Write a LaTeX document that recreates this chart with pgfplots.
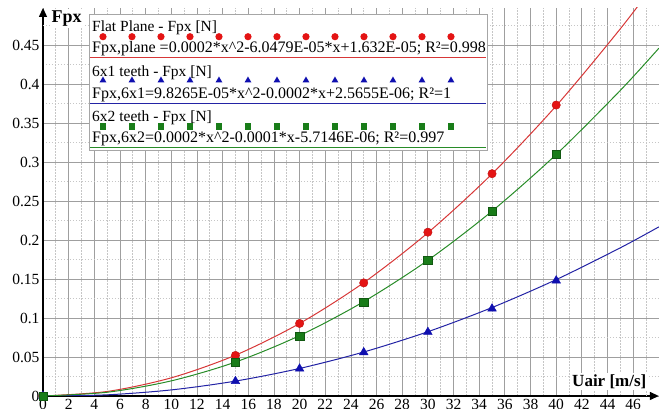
\documentclass[border=0pt]{standalone}
\usepackage{fontspec}
\setmainfont{Liberation Serif}
\usepackage{pgfplots}
\pgfplotsset{compat=1.18}
\usetikzlibrary{arrows.meta,shapes.geometric}
\definecolor{cred}{RGB}{228,20,20}
\definecolor{cblue}{RGB}{15,15,175}
\definecolor{cgreen}{RGB}{25,125,25}
\definecolor{lred}{RGB}{215,55,55}
\definecolor{lgreen}{RGB}{40,140,40}
\definecolor{lblue}{RGB}{35,35,165}
\begin{document}
\begin{tikzpicture}
\begin{axis}[
  scale only axis, width=615.84pt, height=388.05pt,
  xmin=0, xmax=48, ymin=0, ymax=0.4975,
  axis lines=left,
  axis line style={line width=1.3pt,-{Triangle[length=9pt,width=8pt]}},
  xtick={0,2,...,46},
  ytick={0,0.05,0.1,0.15,0.2,0.25,0.3,0.35,0.4,0.45},
  minor x tick num=1, minor y tick num=1,
  extra x ticks={47}, extra x tick labels={},
  extra x tick style={grid=major, major grid style={draw=gray!45, line width=0.8pt, dash pattern=on 1.5pt off 1.5pt}},
  extra y ticks={0.475}, extra y tick labels={},
  extra y tick style={grid=major, major grid style={draw=gray!45, line width=0.8pt, dash pattern=on 1.5pt off 1.5pt}},
  grid=both,
  major grid style={draw=gray!75, line width=0.8pt},
  minor grid style={draw=gray!45, line width=0.8pt, dash pattern=on 1.5pt off 1.5pt},
  major tick length=0pt, minor tick length=0pt,
  tick label style={font=\fontsize{15.5}{18}\selectfont},
  /pgf/number format/assume math mode=true,
  yticklabel style={/pgf/number format/fixed, /pgf/number format/precision=2},
  clip mode=individual,
]
% fitted curves
\addplot[lred, line width=1pt, smooth, no marks] coordinates {(0,0)(5,0.0058)(10,0.0233)(15,0.0523)(20,0.093)(25,0.1453)(30,0.2093)(35,0.2848)(40,0.372)(45,0.4708)(48,0.5357)};
\addplot[lblue, line width=1pt, smooth, no marks] coordinates {(0,0)(5,0.0015)(10,0.0078)(15,0.0191)(20,0.0353)(25,0.0564)(30,0.0824)(35,0.1134)(40,0.1492)(45,0.19)(48,0.2168)};
\addplot[lgreen, line width=1pt, smooth, no marks] coordinates {(0,0)(5,0.0048)(10,0.0194)(15,0.0435)(20,0.0774)(25,0.121)(30,0.174)(35,0.237)(40,0.3096)(45,0.3918)(48,0.4458)};
% measured points
\addplot[only marks, mark=*, mark size=4.2pt, mark options={fill=cred, draw=cred!85!black, line width=0.4pt}] coordinates {(0,0)(15,0.052)(20,0.093)(25,0.145)(30,0.21)(35,0.285)(40,0.373)};
\addplot[only marks, mark=triangle*, mark size=5pt, mark options={fill=cblue, draw=cblue, line width=0.4pt}] coordinates {(0,0)(15,0.019)(20,0.035)(25,0.056)(30,0.082)(35,0.112)(40,0.148)};
\addplot[only marks, mark=square*, mark size=4.2pt, mark options={fill=cgreen, draw=cgreen!70!black, line width=0.4pt}] coordinates {(0,0)(15,0.043)(20,0.077)(25,0.120)(30,0.174)(35,0.237)(40,0.310)};
\node[anchor=base west, fill=white, inner sep=1.5pt, font=\bfseries\fontsize{18}{20}\selectfont] at (axis cs:0.546,0.4786) {Fpx};
\node[anchor=base east, fill=white, inner sep=1.5pt, font=\bfseries\fontsize{17}{19}\selectfont] at (axis cs:47.16,0.0119) {Uair [m/s]};
\coordinate (L) at (axis cs:3.585,0.48974);
\coordinate (BL) at (axis cs:-3.351,-0.016667);
\coordinate (TR) at (axis cs:48.17,0.50769);
\end{axis}
\begin{scope}[shift={(L)}, x=1pt, y=-1pt, font=\fontsize{15.5}{18}\selectfont]
\draw[gray!70, fill=white, line width=0.8pt] (0,0) rectangle (398,136);
\node[anchor=base west, inner sep=0] at (3,17.7) {Flat Plane - Fpx [N]};
\foreach \k in {0,...,12} \fill[cred] (14+29*\k,22.7) circle (3.6pt);
\node[anchor=base west, inner sep=0, font=\fontsize{16}{18}\selectfont] at (3,38.7) {Fpx,plane =0.0002*x\textasciicircum 2-6.0479E-05*x+1.632E-05; R²=0.998};
\draw[lred, line width=1pt] (1,43.7) -- (397,43.7);
\node[anchor=base west, inner sep=0] at (3,62.7) {6x1 teeth - Fpx [N]};
\foreach \k in {0,...,12} \node[regular polygon, regular polygon sides=3, fill=cblue, inner sep=0pt, minimum size=8pt] at (14+29*\k,66.5) {};
\node[anchor=base west, inner sep=0, font=\fontsize{16}{18}\selectfont] at (3,84.3) {Fpx,6x1=9.8265E-05*x\textasciicircum 2-0.0002*x+2.5655E-06; R²=1};
\draw[lblue, line width=1pt] (1,89.3) -- (397,89.3);
\node[anchor=base west, inner sep=0] at (3,107.7) {6x2 teeth - Fpx [N]};
\foreach \k in {0,...,12} \fill[cgreen] (14+29*\k-3.2,112.7-3.2) rectangle (14+29*\k+3.2,112.7+3.2);
\node[anchor=base west, inner sep=0, font=\fontsize{16}{18}\selectfont] at (3,128.3) {Fpx,6x2=0.0002*x\textasciicircum 2-0.0001*x-5.7146E-06; R²=0.997};
\draw[lgreen, line width=1pt] (1,133.7) -- (397,133.7);
\end{scope}
\pgfresetboundingbox
\path[use as bounding box] (BL) rectangle (TR);
\end{tikzpicture}
\end{document}
